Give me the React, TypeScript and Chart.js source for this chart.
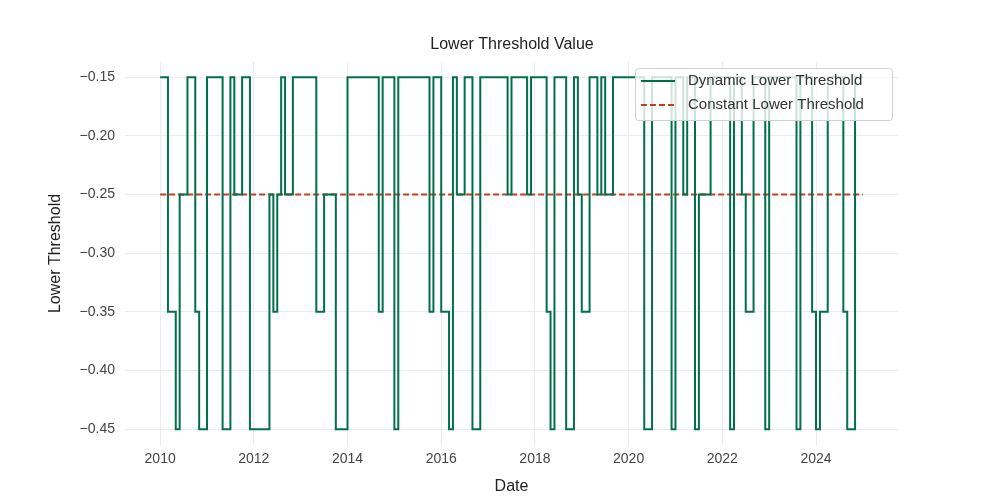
import React, { useEffect, useRef } from "react";
import Chart from "chart.js/auto";

// step segments of the dynamic threshold: level held until the month index in segEnds (months from Jan 2010)
const segValues = [
  -0.15, -0.35, -0.45, -0.25, -0.15, -0.35, -0.45, -0.15, -0.45, -0.15, -0.25, -0.15, -0.45, -0.25, -0.35, -0.25,
  -0.15, -0.25, -0.15, -0.35, -0.25, -0.45, -0.15, -0.35, -0.15, -0.45, -0.15, -0.35, -0.15, -0.35, -0.45, -0.15,
  -0.25, -0.15, -0.45, -0.15, -0.25, -0.15, -0.25, -0.15, -0.35, -0.45, -0.15, -0.45, -0.15, -0.25, -0.35, -0.15,
  -0.25, -0.15, -0.25, -0.15, -0.45, -0.15, -0.45, -0.15, -0.25, -0.15, -0.45, -0.25, -0.15, -0.45, -0.15, -0.25,
  -0.35, -0.15, -0.45, -0.15, -0.45, -0.15, -0.35, -0.45, -0.35, -0.15, -0.35, -0.45, -0.15,
];
const segEnds = [
  3, 5, 6, 8, 10, 11, 13, 17, 19, 20, 22, 24, 29, 30, 31, 32,
  33, 35, 41, 43, 46, 49, 57, 58, 61, 62, 70, 71, 73, 75, 76, 77,
  79, 81, 83, 90, 91, 95, 96, 100, 101, 102, 105, 107, 108, 109, 111, 113,
  114, 115, 117, 125, 127, 132, 133, 135, 136, 138, 139, 142, 147, 148, 150, 151,
  153, 156, 157, 164, 165, 168, 169, 170, 172, 176, 177, 179, 181,
];
const constantThreshold = -0.25;
const startYear = 2010;
const monthCount = 181;
const xTicks = [2010, 2012, 2014, 2016, 2018, 2020, 2022, 2024];

const dynamicPoints: { x: number; y: number }[] = [];
for (let m = 0; m < monthCount; m++) {
  const i = segEnds.findIndex((e) => e > m);
  dynamicPoints.push({ x: startYear + m / 12, y: segValues[i] });
}
const constantPoints = dynamicPoints.map((p) => ({ x: p.x, y: constantThreshold }));

const GREEN = "#00704a";
const RED = "#c0401e";
const FONT = "'Liberation Sans', Arial, sans-serif";

const overlay = {
  id: "overlay",
  afterDraw(chart: any) {
    const ctx = chart.ctx;
    ctx.save();
    ctx.fillStyle = "#222";
    ctx.font = `16px ${FONT}`;
    ctx.textAlign = "center";
    ctx.textBaseline = "middle";
    ctx.fillText("Lower Threshold Value", 512, 45);
    // legend box
    const bx = 635, by = 68, bw = 257, bh = 52;
    ctx.fillStyle = "rgba(255,255,255,0.8)";
    ctx.strokeStyle = "#d0d0d0";
    ctx.lineWidth = 1;
    ctx.beginPath();
    ctx.roundRect(bx + 0.5, by + 0.5, bw, bh, 3);
    ctx.fill();
    ctx.stroke();
    ctx.lineWidth = 2;
    ctx.strokeStyle = GREEN;
    ctx.beginPath();
    ctx.moveTo(641, 81);
    ctx.lineTo(675, 81);
    ctx.stroke();
    ctx.strokeStyle = RED;
    ctx.setLineDash([6, 3]);
    ctx.beginPath();
    ctx.moveTo(641, 105);
    ctx.lineTo(675, 105);
    ctx.stroke();
    ctx.setLineDash([]);
    ctx.fillStyle = "#333";
    ctx.font = `15px ${FONT}`;
    ctx.textAlign = "left";
    ctx.fillText("Dynamic Lower Threshold", 688, 81);
    ctx.fillText("Constant Lower Threshold", 688, 105);
    ctx.restore();
  },
};

const App: React.FC = () => {
  const ref = useRef<HTMLCanvasElement | null>(null);

  useEffect(() => {
    if (!ref.current) return;
    const chart = new Chart(ref.current, {
      type: "line",
      data: {
        datasets: [
          {
            label: "Dynamic Lower Threshold",
            data: dynamicPoints,
            borderColor: GREEN,
            borderWidth: 2,
            pointRadius: 0,
            stepped: "after",
          },
          {
            label: "Constant Lower Threshold",
            data: constantPoints,
            borderColor: RED,
            borderWidth: 2,
            borderDash: [6, 3],
            pointRadius: 0,
          },
        ],
      },
      options: {
        responsive: false,
        animation: false,
        layout: { padding: { top: 62, right: 102, left: 42, bottom: 0 } },
        plugins: { legend: { display: false }, tooltip: { enabled: false } },
        scales: {
          x: {
            type: "linear",
            min: 2009.25,
            max: 2025.75,
            afterBuildTicks: (axis: any) => {
              axis.ticks = xTicks.map((v) => ({ value: v }));
            },
            afterFit: (axis: any) => {
              axis.height = 55;
            },
            ticks: { callback: (v: any) => String(v), color: "#444", font: { family: FONT, size: 14 }, padding: 6 },
            grid: { color: "#ececec", drawTicks: false },
            border: { display: false },
            title: { display: true, text: "Date", color: "#222", font: { family: FONT, size: 16 }, padding: { top: 4 } },
          },
          y: {
            min: -0.4635,
            max: -0.137,
            afterBuildTicks: (axis: any) => {
              axis.ticks = [-0.45, -0.4, -0.35, -0.3, -0.25, -0.2, -0.15].map((v) => ({ value: v }));
            },
            afterFit: (axis: any) => {
              axis.width = 83;
            },
            ticks: {
              callback: (v: any) => Number(v).toFixed(2).replace("-", "\u2212"),
              color: "#444",
              font: { family: FONT, size: 14 },
              padding: 10,
            },
            grid: { color: "#ececec", drawTicks: false },
            border: { display: false },
            title: { display: true, text: "Lower Threshold", color: "#222", font: { family: FONT, size: 16 } },
          },
        },
      },
      plugins: [overlay],
    });
    return () => chart.destroy();
  }, []);

  return (
    <div style={{ position: "fixed", left: 0, top: 0, width: 1000, height: 500, background: "#fff" }}>
      <canvas ref={ref} width={1000} height={500} />
    </div>
  );
};

export default App;
